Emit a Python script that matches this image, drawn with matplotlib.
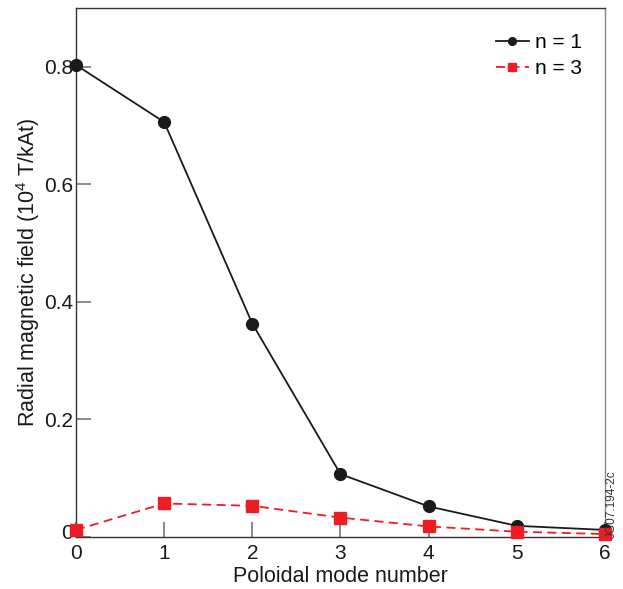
import matplotlib
matplotlib.use('Agg')
import matplotlib.pyplot as plt
from matplotlib.transforms import ScaledTranslation

# 极向模数
modes = [0, 1, 2, 3, 4, 5, 6]
# n = 1 径向磁场
field_n1 = [0.803, 0.706, 0.363, 0.107, 0.052, 0.019, 0.012]
# n = 3 径向磁场
field_n3 = [0.012, 0.057, 0.053, 0.033, 0.018, 0.009, 0.005]

yticks = [0, 0.2, 0.4, 0.6, 0.8]
ytick_labels = ['0', '0.2', '0.4', '0.6', '0.8']

plt.rcParams['font.family'] = ['Liberation Sans', 'DejaVu Sans']
plt.rcParams['mathtext.fontset'] = 'custom'
plt.rcParams['mathtext.rm'] = 'Liberation Sans'

fig = plt.figure(figsize=(6.23, 5.89), dpi=100)
ax = fig.add_axes([0.122, 0.0883, 0.849, 0.8981])

ax.plot(modes, field_n1, color='#1a1a1a', linewidth=1.3, marker='o',
        markersize=8.5, label='n = 1', clip_on=False, zorder=3)
ax.plot(modes, field_n3, color='#ee1c24', linewidth=1.3, linestyle=(0, (5, 3)),
        marker='s', markersize=8, label='n = 3', clip_on=False, zorder=3)

ax.set_xlim(0, 6)
ax.set_ylim(0, 0.9)
ax.set_xticks(modes)
ax.set_yticks(yticks)
ax.set_yticklabels(ytick_labels)
ax.tick_params(direction='in', length=11, width=1.2, color='#777777',
               labelsize=15, labelcolor='#1a1a1a')
ax.tick_params(axis='x', pad=5)
ax.tick_params(axis='y', pad=2)

# 0 标签略微上移
lab0 = ax.get_yticklabels()[0]
lab0.set_transform(lab0.get_transform() + ScaledTranslation(0, 0.05, fig.dpi_scale_trans))

for s in ax.spines.values():
    s.set_linewidth(1.0)
    s.set_color('#333333')
ax.spines['right'].set_color('#888888')

ax.set_xlabel('Poloidal mode number', fontsize=15.5, labelpad=2, color='#1a1a1a')
ax.set_ylabel('Radial magnetic field (10$^4$ T/kAt)', fontsize=15.5, labelpad=1.5,
              color='#1a1a1a')

leg = ax.legend(loc='upper right', frameon=False, fontsize=15,
                handlelength=1.6, handletextpad=0.3, labelspacing=0.35,
                markerscale=0.65, bbox_to_anchor=(0.985, 0.98),
                borderaxespad=0.3)

fig.text(0.982, 0.144, 'JG07.194-2c', rotation=90, fontsize=8.5,
         ha='center', va='center', color='#333333')

fig.savefig('out.png', dpi=100)
